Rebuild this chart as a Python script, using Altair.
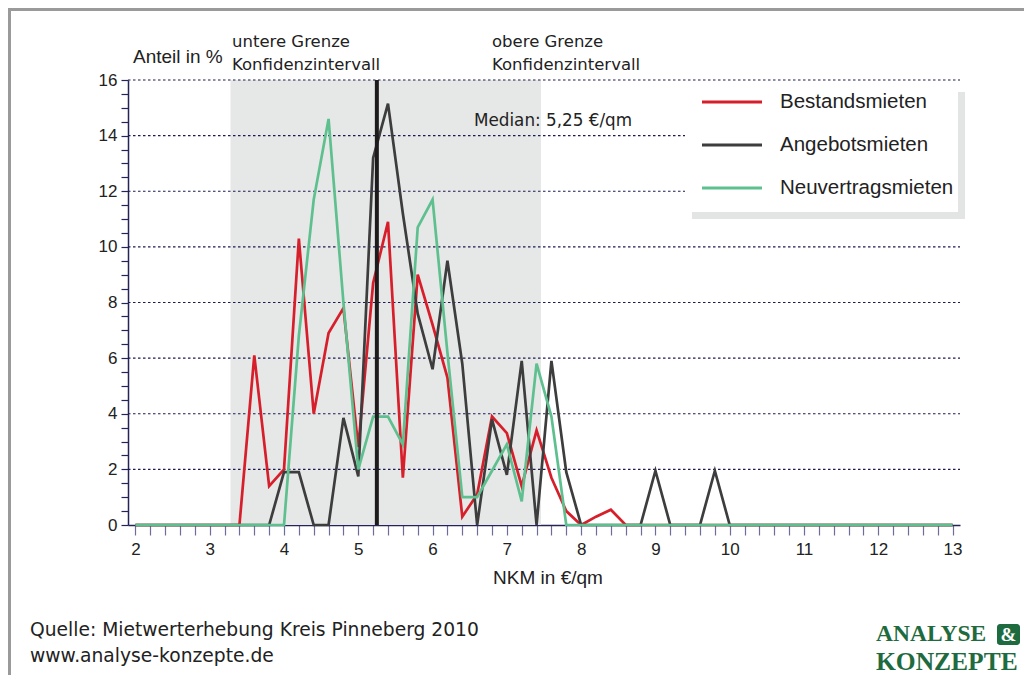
import altair as alt
import pandas as pd

# x positions (NKM in €/qm), 0.2 steps from 2.0 to 13.0
nkm = [round(2 + 0.2 * i, 1) for i in range(56)]

bestand = [0, 0, 0, 0, 0, 0, 0, 0, 6.1, 1.4, 2.0, 10.3, 4.0, 6.9, 7.8, 2.8,
           8.7, 10.9, 1.7, 9.0, 7.2, 5.3, 0.3, 1.1, 3.9, 3.3, 1.4, 3.4, 1.7, 0.5,
           0, 0.3, 0.55, 0, 0, 0, 0, 0, 0, 0, 0, 0, 0, 0, 0, 0,
           0, 0, 0, 0, 0, 0, 0, 0, 0, 0]
angebot = [0, 0, 0, 0, 0, 0, 0, 0, 0, 0, 1.9, 1.9, 0, 0, 3.85, 1.75,
           13.2, 15.15, 11.2, 7.6, 5.6, 9.5, 5.8, 0, 3.8, 1.8, 5.9, 0, 5.9, 1.9,
           0, 0, 0, 0, 0, 1.95, 0, 0, 0, 1.95, 0, 0, 0, 0, 0, 0,
           0, 0, 0, 0, 0, 0, 0, 0, 0, 0]
neuvertrag = [0, 0, 0, 0, 0, 0, 0, 0, 0, 0, 0, 6.8, 11.7, 14.6, 8.0, 2.0,
              3.9, 3.9, 2.9, 10.7, 11.7, 6.2, 1.0, 1.0, 1.95, 2.9, 0.85, 5.8, 3.9, 0,
              0, 0, 0, 0, 0, 0, 0, 0, 0, 0, 0, 0, 0, 0, 0, 0,
              0, 0, 0, 0, 0, 0, 0, 0, 0, 0]

series_names = ["Bestandsmieten", "Angebotsmieten", "Neuvertragsmieten"]
series_colors = ["#d71f2b", "#3d3d3d", "#5ec08f"]

ci_low, ci_high = 3.28, 7.46
median = 5.25
grid_values = [2, 4, 6, 8, 10, 12, 14, 16]
x_ticks = [round(2 + 0.2 * i, 1) for i in range(56)]
y_ticks = [0.5 * i for i in range(33)]

W, H = 832, 445
X_DOMAIN = [1.9, 13.1]
Y_DOMAIN = [0, 16]

xs = alt.Scale(domain=X_DOMAIN, nice=False, zero=False)
ys = alt.Scale(domain=Y_DOMAIN, nice=False)

x_axis = alt.Axis(values=x_ticks,
                  labelExpr="abs(datum.value - round(datum.value)) < 0.01 ? format(datum.value, 'd') : ''",
                  tickSize=10, tickColor="#6e6c98", tickWidth=1.2,
                  domainColor="#25245a", domainWidth=1.5,
                  labelFont="Liberation Sans", labelFontSize=17, labelColor="#222222",
                  labelPadding=6, grid=False, labelFlush=False, labelOverlap=False)
y_axis = alt.Axis(values=y_ticks,
                  labelExpr="datum.value % 2 == 0 ? format(datum.value, 'd') : ''",
                  tickSize=7, tickColor="#25245a", tickWidth=1.2,
                  domainColor="#25245a", domainWidth=1.5,
                  labelFont="Liberation Sans", labelFontSize=17, labelColor="#222222",
                  labelPadding=4, grid=False, labelOverlap=False)

def X(f):
    return alt.X(f, scale=xs, axis=x_axis, title=None)

def Y(f):
    return alt.Y(f, scale=ys, axis=y_axis, title=None)

one = pd.DataFrame({"a": [0]})

band_df = pd.DataFrame({"lo": [ci_low], "hi": [ci_high], "y0": [0], "y1": [16]})
band = alt.Chart(band_df).mark_rect(color="#e6e7e7").encode(
    x=X("lo:Q"), x2="hi:Q", y=Y("y0:Q"), y2="y1:Q")

grid = alt.Chart(pd.DataFrame({"g": grid_values})).mark_rule(
    color="#1c1b50", strokeDash=[2.5, 2.5], strokeWidth=1.2
).encode(y=Y("g:Q"), x=alt.value(0), x2=alt.value(W))

def series_layer(vals, name, color):
    df = pd.DataFrame({"nkm": nkm, "anteil": vals, "serie": name})
    return alt.Chart(df).mark_line(color=color, strokeWidth=2.7, strokeJoin="miter").encode(
        x=X("nkm:Q"), y=Y("anteil:Q"))

lines = [series_layer(v, n, c) for v, n, c in zip([bestand, angebot, neuvertrag], series_names, series_colors)]

med_df = pd.DataFrame({"m": [median], "y0": [0], "y1": [16]})
med = alt.Chart(med_df).mark_rule(color="#1e1b1c", strokeWidth=4).encode(
    x=X("m:Q"), y=Y("y0:Q"), y2="y1:Q")

# manual legend
leg_shadow = alt.Chart(one).mark_rect(color="#e3e4e4").encode(
    x=alt.value(564), x2=alt.value(837), y=alt.value(12), y2=alt.value(139))
leg_box = alt.Chart(one).mark_rect(color="#ffffff").encode(
    x=alt.value(557), x2=alt.value(830), y=alt.value(5), y2=alt.value(132))
leg_items = []
for i, (n, c) in enumerate(zip(series_names, series_colors)):
    yy = 22 + 43 * i
    leg_items.append(alt.Chart(one).mark_rule(color=c, strokeWidth=2.8).encode(
        x=alt.value(574), x2=alt.value(634), y=alt.value(yy)))
    leg_items.append(alt.Chart(one).mark_text(
        text=n, font="Liberation Sans", fontSize=20.5, color="#222222", align="left", baseline="middle"
    ).encode(x=alt.value(652), y=alt.value(yy)))

def txt(s, x, y, font="DejaVu Sans", size=16.5, color="#222222", align="left", weight="normal"):
    return alt.Chart(one).mark_text(text=s, font=font, fontSize=size, color=color,
                                    align=align, baseline="middle", fontWeight=weight).encode(
        x=alt.value(x), y=alt.value(y))

texts = [
    txt("Anteil in %", 5, -23, font="Liberation Sans", size=19),
    txt("untere Grenze", 104, -38),
    txt("Konfidenzintervall", 104, -15),
    txt("obere Grenze", 364, -38),
    txt("Konfidenzintervall", 364, -15),
    txt("Median: 5,25 €/qm", 346, 41, size=16.8),
    txt("NKM in €/qm", 420, 498, font="Liberation Sans", size=19, align="center"),
    txt("Quelle: Mietwerterhebung Kreis Pinneberg 2010", -98, 550, size=18.7),
    txt("www.analyse-konzepte.de", -98, 576, size=18.7),
    txt("ANALYSE", 748, 554, font="Liberation Serif", size=23.5, color="#1f6b40", weight="bold"),
    txt("KONZEPTE", 748, 582, font="Liberation Serif", size=25.5, color="#1f6b40", weight="bold"),
]
amp_box = alt.Chart(one).mark_rect(color="#1f6b40", cornerRadius=3).encode(
    x=alt.value(869), x2=alt.value(892), y=alt.value(544), y2=alt.value(565))
amp = txt("&", 880.5, 555, font="Liberation Serif", size=19, color="#ffffff", align="center", weight="bold")

border_top = alt.Chart(one).mark_rule(color="#9a9a9a", strokeWidth=3).encode(
    x=alt.value(-120), x2=alt.value(896), y=alt.value(-70.5))
border_left = alt.Chart(one).mark_rule(color="#9a9a9a", strokeWidth=3).encode(
    x=alt.value(-118.5), y=alt.value(-72), y2=alt.value(595))

chart = alt.layer(
    band, grid, *lines, med, leg_shadow, leg_box, *leg_items, *texts, amp_box, amp,
    border_top, border_left
).properties(
    width=W, height=H,
    autosize=alt.AutoSizeParams(type="none"),
    padding={"left": 120, "top": 72, "right": 64, "bottom": 150},
).configure_view(stroke=None)

chart.save("out.html", embed_options={"renderer": "svg", "actions": False})
